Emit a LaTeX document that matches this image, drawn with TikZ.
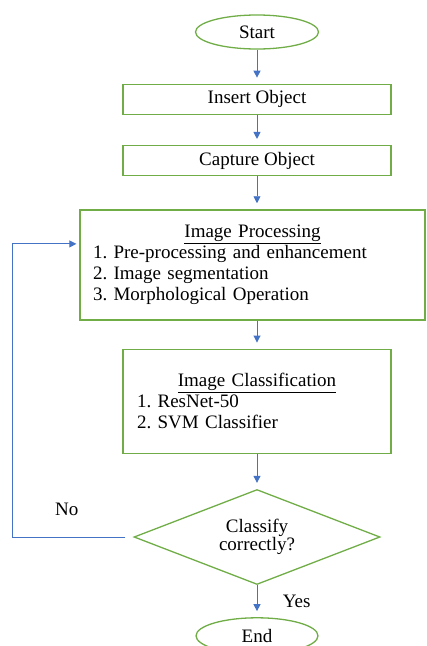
\documentclass[tikz,border=0pt]{standalone}
\usepackage{fontspec}
\setmainfont{Liberation Serif}
\usetikzlibrary{arrows.meta, positioning, shapes.geometric}
\definecolor{boxgreen}{HTML}{70AD47}
\definecolor{flowblue}{HTML}{4472C4}
\frenchspacing

\begin{document}
\begin{tikzpicture}[x=1pt, y=-1pt,
  box/.style={draw=boxgreen, line width=1.3pt, align=center, font=\fontsize{19}{21}\selectfont, inner sep=0pt},
  term/.style={box, ellipse, minimum width=123pt, minimum height=34pt},
  stepbox/.style={box, minimum width=268pt, minimum height=30pt},
  listbox/.style={box, align=left},
  flow/.style={draw=flowblue, line width=0.9pt, -{Triangle[width=7pt,length=7pt]}, shorten >=6pt},
  lbl/.style={font=\fontsize{19}{21}\selectfont}]
\useasboundingbox (0,0) rectangle (427,646);
\node[term] (start) at (257,32) {Start};
\node[stepbox, below=34pt of start] (insert) {Insert Object};
\node[stepbox, below=30pt of insert] (capture) {Capture Object};
\node[listbox, inner xsep=13pt, text width=319pt, minimum height=110pt, below=33pt of capture, xshift=-4.5pt] (proc)
  {\noindent\makebox[\linewidth]{\underline{Image Processing}}\\
   1. Pre-processing and enhancement\\
   2. Image segmentation\\
   3. Morphological Operation};
\node[listbox, inner xsep=14pt, text width=240pt, minimum height=104pt, below=28pt of proc, xshift=4.5pt] (classbox)
  {\noindent\makebox[\linewidth]{\underline{Image Classification}}\\
   1. ResNet-50\\
   2. SVM Classifier};
\node[box, diamond, aspect=2.6, minimum width=246pt, minimum height=95pt, below=35pt of classbox] (check)
  {Classify\\[-3pt]correctly?};
\node[term, minimum width=122pt, minimum height=36pt, below=32pt of check] (stop) {End};
\coordinate[left=121pt of check.west] (back);

\draw[flow] (start) -- (insert);
\draw[flow] (insert) -- (capture);
\draw[flow] (capture) -- (capture |- proc.north);
\draw[flow] (proc.south -| classbox) -- (classbox);
\draw[flow] (classbox) -- (check);
\draw[flow] (check) -- node[lbl, right=22pt] (yes) {Yes} (stop);
\draw[flow, shorten <=8pt, shorten >=3pt] (check.west) -- node[lbl, pos=0.55, above=18pt] (no) {No} (back)
  |- ([yshift=21pt]proc.west);
\end{tikzpicture}
\end{document}
